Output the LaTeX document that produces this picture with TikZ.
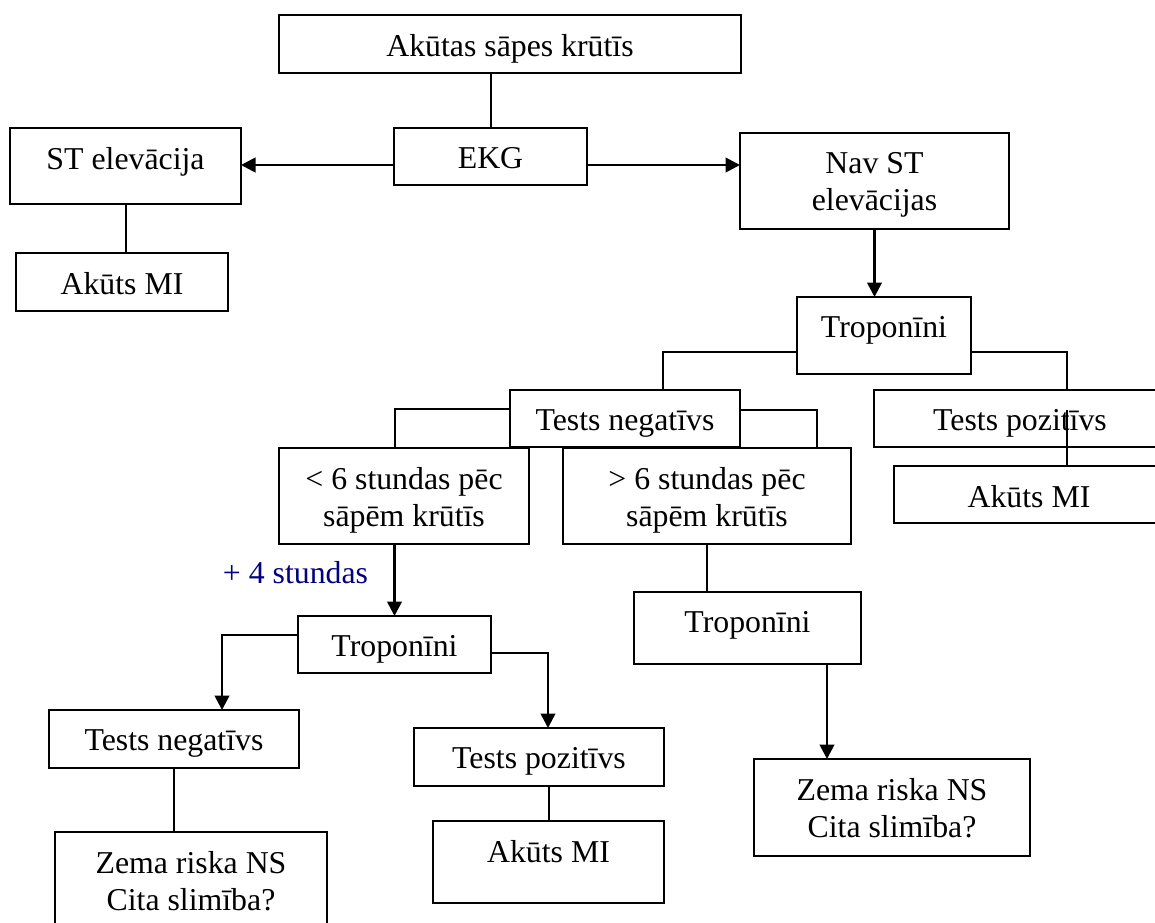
\documentclass[tikz,border=0pt]{standalone}
\usepackage{fontspec}
\setmainfont{Liberation Serif}
\usetikzlibrary{arrows.meta,fit}
\definecolor{notecol}{HTML}{000080}
\begin{document}
\begin{tikzpicture}[x=1pt,y=-1pt,
  box/.style={draw, line width=2pt, inner sep=0pt, outer sep=0pt},
  lbl/.style={anchor=north, inner sep=0pt, align=center, font=\fontsize{31.8}{36.6}\selectfont},
  link/.style={line width=2pt},
  flow/.style={line width=2.7pt, -{Triangle[length=14.5pt,width=14.5pt]}}]
\useasboundingbox (0,0) rectangle (1155,922);
\fill[white] (0,0) rectangle (1155,922);
\clip (0,0) rectangle (1155,922);

% boxes (corner to corner)
\node[box, fit={(279,15) (741,73)}]   (start) {};
\node[box, fit={(394,128) (587,185)}] (ekg) {};
\node[box, fit={(10,128) (241,204)}]  (stel) {};
\node[box, fit={(16,253) (228,311)}]  (amA) {};
\node[box, fit={(740,133) (1009,229)}] (nost) {};
\node[box, fit={(797,297) (971,374)}] (trA) {};
\node[box, fit={(510,390) (740,447)}] (negA) {};
\node[box, fit={(874,390) (1166,447)}] (posA) {};
\node[box, fit={(894,466) (1164,523)}] (amB) {};
\node[box, fit={(279,448) (529,544)}] (early) {};
\node[box, fit={(563,448) (851,544)}] (late) {};
\node[box, fit={(298,616) (491,673)}] (trB) {};
\node[box, fit={(49,710) (299,768)}]  (negB) {};
\node[box, fit={(55,832) (327,935)}]  (lowA) {};
\node[box, fit={(414,728) (664,786)}] (posB) {};
\node[box, fit={(433,821) (664,903)}] (amC) {};
\node[box, fit={(634,592) (861,664)}] (trC) {};
\node[box, fit={(754,759) (1030,856)}] (lowB) {};

% texts
\node[lbl] (start-t) at ([yshift=-19.5pt]start.north) {Akūtas sāpes krūtīs};
\node[lbl] (ekg-t)   at ([yshift=-19.5pt]ekg.north)   {EKG};
\node[lbl] (stel-t)  at ([yshift=-19.5pt]stel.north)  {ST elevācija};
\node[lbl] (amA-t)   at ([yshift=-19.5pt]amA.north)   {Akūts MI};
\node[lbl] (nost-t)  at ([yshift=-19.5pt]nost.north)  {Nav ST\\elevācijas};
\node[lbl] (trA-t)   at ([yshift=-19.5pt]trA.north)   {Troponīni};
\node[lbl] (negA-t)  at ([yshift=-19.5pt]negA.north)  {Tests negatīvs};
\node[lbl] (posA-t)  at ([yshift=-19.5pt]posA.north)  {Tests pozitīvs};
\node[lbl] (amB-t)   at ([yshift=-19.5pt]amB.north)   {Akūts MI};
\node[lbl] (early-t) at ([yshift=-19.5pt]early.north) {< 6 stundas pēc\\sāpēm krūtīs};
\node[lbl] (late-t)  at ([yshift=-19.5pt]late.north)  {> 6 stundas pēc\\sāpēm krūtīs};
\node[lbl] (trB-t)   at ([yshift=-19.5pt]trB.north)   {Troponīni};
\node[lbl] (negB-t)  at ([yshift=-19.5pt]negB.north)  {Tests negatīvs};
\node[lbl] (lowA-t)  at ([yshift=-19.5pt]lowA.north)  {Zema riska NS\\Cita slimība?};
\node[lbl] (posB-t)  at ([yshift=-19.5pt]posB.north)  {Tests pozitīvs};
\node[lbl] (amC-t)   at ([yshift=-19.5pt]amC.north)   {Akūts MI};
\node[lbl] (trC-t)   at ([yshift=-19.5pt]trC.north)   {Troponīni};
\node[lbl] (lowB-t)  at ([yshift=-19.5pt]lowB.north)  {Zema riska NS\\Cita slimība?};

% time note
\node[lbl, anchor=center, text=notecol] (plus4) at (295.5,573) {+ 4 stundas};

% connectors
\draw[link] (ekg.north |- start.south) -- (ekg.north);
\draw[flow] ([yshift=-8.5pt]ekg.west) -- ([yshift=-8.5pt]ekg.west -| stel.east);
\draw[flow] ([yshift=-8.5pt]ekg.east) -- ([yshift=-8.5pt]ekg.east -| nost.west);
\draw[link] (stel.south) -- (stel.south |- amA.north);
\draw[flow] (nost.south) -- (nost.south |- trA.north);

\coordinate (posA-in) at (1067,410);
\draw[link] ([yshift=-16.5pt]trA.west) -| ([xshift=38pt]negA.north);
\draw[link] ([yshift=-16.5pt]trA.east) -| (posA-in |- posA.north);
\draw[link] (posA-in) -- (posA-in |- amB.north);

\draw[link] ([yshift=9.5pt]negA.west) -| (trB.north |- early.north);
\draw[link] ([yshift=8.5pt]negA.east) -| ([xshift=110pt]late.north);

\draw[flow] (trB.north |- early.south) -- (trB.north);
\draw[flow] ([yshift=9.5pt]trB.west) -| ([xshift=48pt]negB.north);
\draw[flow] ([yshift=-8.5pt]trB.east) -| ([xshift=9pt]posB.north);
\draw[link] (negB.south) -- (negB.south |- lowA.north);
\draw[link] (amC.north |- posB.south) -- (amC.north);

\draw[link] (late.south) -- (late.south |- trC.north);
\draw[flow] ([xshift=79.5pt]trC.south) -- ([xshift=79.5pt]trC.south |- lowB.north);
\end{tikzpicture}
\end{document}
